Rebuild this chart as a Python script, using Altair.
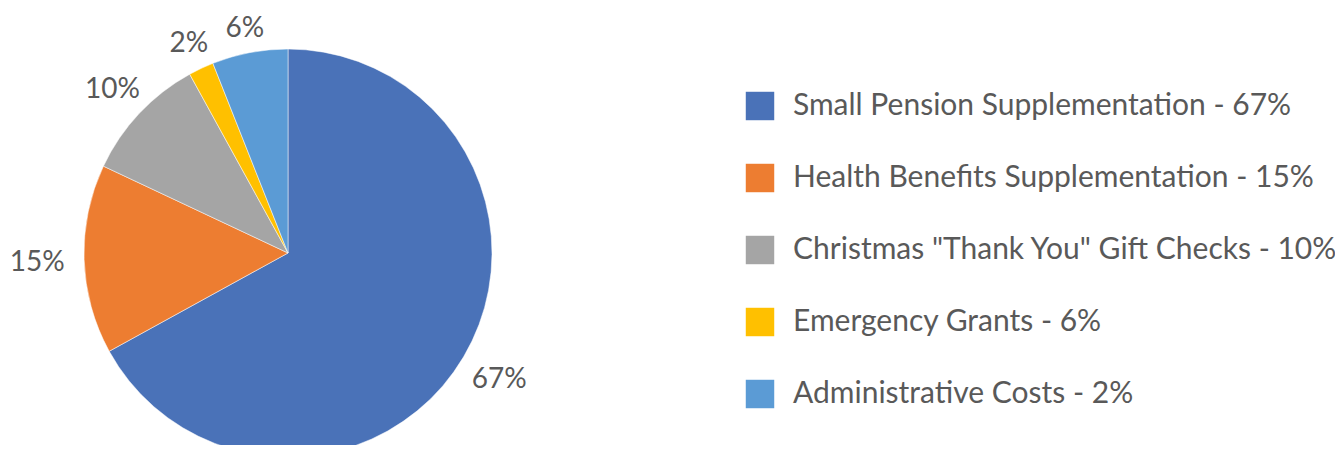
import math
import altair as alt
import pandas as pd

# Slice data (clockwise from 12 o'clock)
slice_values = [67, 15, 10, 2, 6]
slice_labels = ["67%", "15%", "10%", "2%", "6%"]
legend_labels = [
    "Small Pension Supplementation - 67%",
    "Health Benefits Supplementation - 15%",
    'Christmas "Thank You" Gift Checks - 10%',
    "Emergency Grants - 6%",
    "Administrative Costs - 2%",
]
colors = ["#4A72B8", "#ED7D31", "#A5A5A5", "#FFC000", "#5B9BD5"]

PIE_R = 204
FONT = "Lato"
TEXT_COLOR = "#595959"

total = sum(slice_values)
rows = []
cum = 0
for i, (v, lab, leg) in enumerate(zip(slice_values, slice_labels, legend_labels)):
    mid_val = cum + v / 2
    cum += v
    ang = mid_val / total * 2 * math.pi
    # label radius: keep the label box just outside the circle
    lr = PIE_R + 14 + 33 * math.sin(ang) ** 2 + 11 * math.cos(ang) ** 2
    rows.append({"idx": i, "value": v, "mid": mid_val, "label": lab,
                 "category": leg, "lr": lr})
df = pd.DataFrame(rows)

arcs = alt.Chart(df).mark_arc(outerRadius=PIE_R, stroke="white", strokeWidth=0.5).encode(
    theta=alt.Theta("value:Q", stack=True),
    order=alt.Order("idx:Q"),
    color=alt.Color(
        "category:N",
        sort=legend_labels,
        scale=alt.Scale(domain=legend_labels, range=colors),
        legend=alt.Legend(
            title=None,
            orient="none",
            legendX=737,
            legendY=83,
            symbolType="square",
            symbolSize=810,
            symbolStrokeWidth=0,
            symbolOpacity=1,
            labelFont=FONT,
            labelFontSize=30,
            labelColor=TEXT_COLOR,
            labelOffset=18,
            labelLimit=0,
            rowPadding=42,
            padding=0,
        ),
    ),
    x=alt.value(280),
    y=alt.value(245),
)

labels = alt.Chart(df).mark_text(font=FONT, fontSize=28, color=TEXT_COLOR, dy=2).encode(
    theta=alt.Theta("mid:Q", stack=None, scale=alt.Scale(domain=[0, total])),
    radius=alt.Radius("lr:Q", scale=None, stack=None),
    text="label:N",
    x=alt.value(280),
    y=alt.value(245),
)

chart = (
    alt.layer(arcs, labels)
    .resolve_scale(theta="independent")
    .properties(width=1327, height=437, autosize=alt.AutoSizeParams(type="none"),
                padding=0, background="white")
    .configure_view(stroke=None)
)

chart.save("out.html", embed_options={"renderer": "svg", "actions": False})
